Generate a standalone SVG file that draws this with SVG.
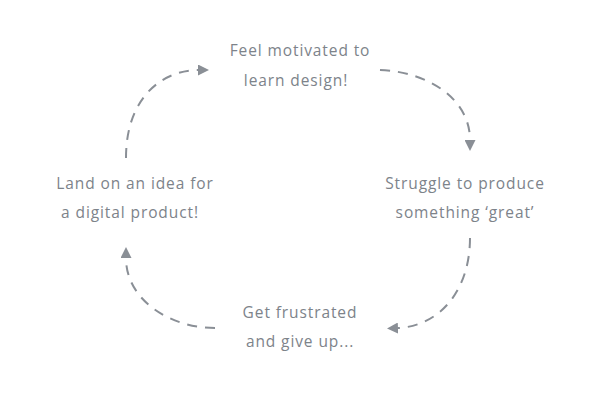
<svg xmlns="http://www.w3.org/2000/svg" width="600" height="400" viewBox="0 0 600 400">
<style>
.t{font-family:"Open Sans","Liberation Sans",sans-serif;font-size:15.5px;letter-spacing:0.9px;fill:#7d838a;text-anchor:middle}
.c{fill:none;stroke:#8a8f96;stroke-width:2;stroke-dasharray:10 8;marker-end:url(#a)}
</style>
<defs>
<marker id="a" viewBox="0 -5 10 10" refX="0" refY="0" markerWidth="11" markerHeight="11" markerUnits="userSpaceOnUse" orient="auto">
<path d="M0,-5 L10,0 L0,5 z" fill="#8a8f96"/>
</marker>
</defs>
<rect width="600" height="400" fill="#fff"/>
<g id="connectors">
<path class="c" d="M126,158 C126,95 165,70 198,70"/>
<path class="c" d="M380,70 C430,72 470,100 470,140"/>
<path class="c" d="M470,238 C470,290 440,326 398,328"/>
<path class="c" d="M215,328 C170,328 126,300 126,258"/>
</g>
<g id="n1"><text class="t" x="300" y="56">Feel motivated to</text><text class="t" x="296" y="86">learn design!</text></g>
<g id="n2"><text class="t" x="465" y="189">Struggle to produce</text><text class="t" x="465" y="218">something ‘great’</text></g>
<g id="n3"><text class="t" x="300" y="318">Get frustrated</text><text class="t" x="300" y="347">and give up...</text></g>
<g id="n4"><text class="t" x="135" y="189">Land on an idea for</text><text class="t" x="130" y="218">a digital product!</text></g>
</svg>
